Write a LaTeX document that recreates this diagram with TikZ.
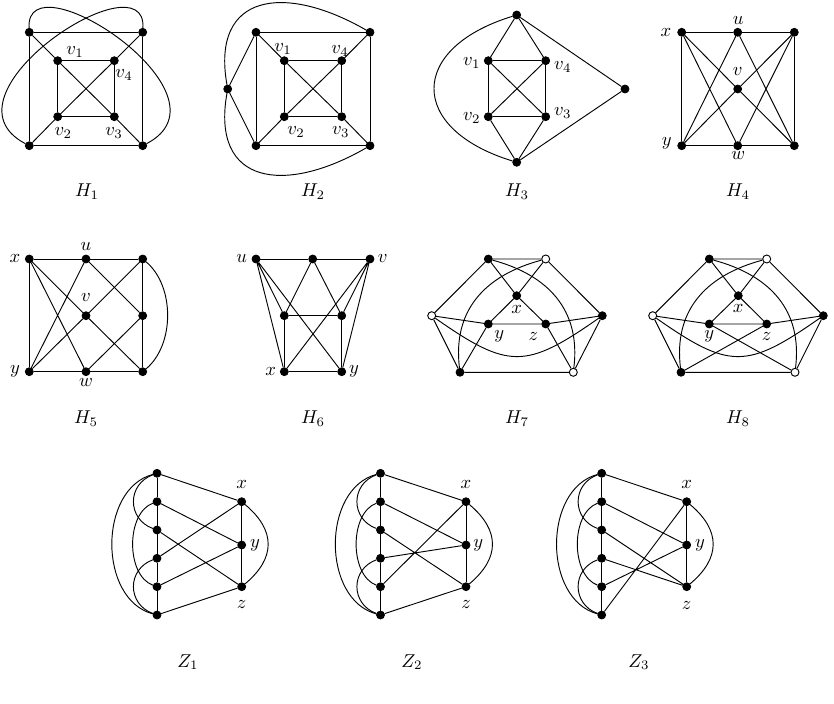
\documentclass[tikz,border=0pt]{standalone}
\begin{document}
\begin{tikzpicture}[x=0.5376pt,y=0.5376pt,
  bv/.style={circle,fill=black,draw=black,line width=0.4pt,inner sep=0pt,minimum size=4.3pt},
  wv/.style={circle,fill=white,draw=black,line width=0.5pt,inner sep=0pt,minimum size=4.3pt},
  lab/.style={inner sep=0pt},
  gcap/.style={anchor=base,inner sep=0pt},
  ln/.style={line width=0.5pt}]
\useasboundingbox (0,0) rectangle (834,-704);

% ---------- H1 ----------
\node[bv] (a1) at (29.3,-32.3) {};
\node[bv] (a2) at (142.7,-32.3) {};
\node[bv] (a3) at (29.3,-145.7) {};
\node[bv] (a4) at (142.7,-145.7) {};
\node[bv] (a5) at (57.7,-60.7) {};
\node[bv] (a6) at (114.3,-60.7) {};
\node[bv] (a7) at (57.7,-116.7) {};
\node[bv] (a8) at (114.3,-116.7) {};
\draw[ln] (a1)--(a2)--(a4)--(a3)--(a1);
\draw[ln] (a5)--(a6)--(a8)--(a7)--(a5);
\draw[ln] (a5)--(a8) (a7)--(a6) (a1)--(a5) (a2)--(a6) (a3)--(a7) (a4)--(a8);
\draw[ln] (a1) .. controls (25,45) and (240,-95) .. (a4);
\draw[ln] (a2) .. controls (147,45) and (-68,-95) .. (a3);
\node[lab] (la1) at (75,-52.3) {$v_1$};
\node[lab] (la2) at (124,-75) {$v_4$};
\node[lab] (la3) at (63.3,-133.3) {$v_2$};
\node[lab] (la4) at (114,-133.3) {$v_3$};
\node[gcap] (ca1) at (87,-197) {$H_1$};

% ---------- H2 ----------
\node[bv] (b1) at (256,-32.3) {};
\node[bv] (b2) at (370,-32.3) {};
\node[bv] (b3) at (256,-145.7) {};
\node[bv] (b4) at (370,-145.7) {};
\node[bv] (b5) at (227.7,-89) {};
\node[bv] (b6) at (284.3,-60.7) {};
\node[bv] (b7) at (341.7,-60.7) {};
\node[bv] (b8) at (284.3,-116.7) {};
\node[bv] (b9) at (341.7,-116.7) {};
\draw[ln] (b1)--(b2)--(b4)--(b3)--(b1);
\draw[ln] (b5)--(b1) (b5)--(b3);
\draw[ln] (b6)--(b7)--(b9)--(b8)--(b6);
\draw[ln] (b6)--(b9) (b8)--(b7) (b1)--(b6) (b2)--(b7) (b3)--(b8) (b4)--(b9);
\draw[ln] (b5) to[out=100,in=150,looseness=1.6] (b2);
\draw[ln] (b5) to[out=260,in=210,looseness=1.6] (b4);
\node[lab] (lb1) at (283,-49.3) {$v_1$};
\node[lab] (lb2) at (340,-50.7) {$v_4$};
\node[lab] (lb3) at (296,-131.7) {$v_2$};
\node[lab] (lb4) at (340.7,-131.7) {$v_3$};
\node[gcap] (cb1) at (313,-197) {$H_2$};

% ---------- H3 ----------
\node[bv] (c1) at (516.7,-15) {};
\node[bv] (c2) at (488.3,-60.7) {};
\node[bv] (c3) at (545.7,-60.7) {};
\node[bv] (c4) at (488.3,-116.7) {};
\node[bv] (c5) at (545.7,-116.7) {};
\node[bv] (c6) at (516.7,-162.3) {};
\node[bv] (c7) at (625,-89) {};
\draw[ln] (c1)--(c2) (c1)--(c3) (c1)--(c7) (c6)--(c4) (c6)--(c5) (c6)--(c7);
\draw[ln] (c2)--(c3)--(c5)--(c4)--(c2);
\draw[ln] (c2)--(c5) (c4)--(c3);
\draw[ln] (c1) to[out=197,in=163,looseness=1.94] (c6);
\node[lab] (lc1) at (471.7,-63.3) {$v_1$};
\node[lab] (lc2) at (562.7,-66.7) {$v_4$};
\node[lab] (lc3) at (471.7,-118.3) {$v_2$};
\node[lab] (lc4) at (562.7,-113.3) {$v_3$};
\node[gcap] (cc1) at (517,-197) {$H_3$};

% ---------- H4 ----------
\node[bv] (d1) at (681.7,-32.3) {};
\node[bv] (d2) at (737.7,-32.3) {};
\node[bv] (d3) at (794.3,-32.3) {};
\node[bv] (d4) at (737.7,-89) {};
\node[bv] (d5) at (681.7,-145.7) {};
\node[bv] (d6) at (737.7,-145.7) {};
\node[bv] (d7) at (794.3,-145.7) {};
\draw[ln] (d1)--(d2)--(d3)--(d7)--(d6)--(d5)--(d1);
\draw[ln] (d1)--(d4)--(d7) (d3)--(d4)--(d5);
\draw[ln] (d1)--(d6) (d2)--(d5) (d3)--(d6) (d2)--(d7);
\node[lab] (ld1) at (666,-32.3) {$x$};
\node[lab] (ld2) at (738.3,-20.7) {$u$};
\node[lab] (ld3) at (737.7,-71.7) {$v$};
\node[lab] (ld4) at (666.7,-143.3) {$y$};
\node[lab] (ld5) at (738.3,-156) {$w$};
\node[gcap] (cd1) at (738,-197) {$H_4$};

% ---------- H5 ----------
\node[bv] (e1) at (29.3,-259) {};
\node[bv] (e2) at (86,-259) {};
\node[bv] (e3) at (142.7,-259) {};
\node[bv] (e4) at (86,-315.7) {};
\node[bv] (e5) at (142.7,-315.7) {};
\node[bv] (e6) at (29.3,-371.7) {};
\node[bv] (e7) at (86,-371.7) {};
\node[bv] (e8) at (142.7,-371.7) {};
\draw[ln] (e1)--(e2)--(e3)--(e5)--(e8)--(e7)--(e6)--(e1);
\draw[ln] (e1)--(e4)--(e8) (e6)--(e4)--(e3);
\draw[ln] (e1)--(e7) (e6)--(e2) (e2)--(e5) (e5)--(e7);
\draw[ln] (e3) to[out=-40,in=40,looseness=0.9] (e8);
\node[lab] (le1) at (15,-259) {$x$};
\node[lab] (le2) at (86,-246.7) {$u$};
\node[lab] (le3) at (86,-297.3) {$v$};
\node[lab] (le4) at (15,-371.7) {$y$};
\node[lab] (le5) at (86,-382.7) {$w$};
\node[gcap] (ce1) at (86,-424) {$H_5$};

% ---------- H6 ----------
\node[bv] (f1) at (256,-259) {};
\node[bv] (f2) at (312.7,-259) {};
\node[bv] (f3) at (370,-259) {};
\node[bv] (f4) at (284.3,-315.7) {};
\node[bv] (f5) at (341.7,-315.7) {};
\node[bv] (f6) at (284.3,-371.7) {};
\node[bv] (f7) at (341.7,-371.7) {};
\draw[ln] (f1)--(f2)--(f3) (f4)--(f5) (f4)--(f6) (f5)--(f7) (f6)--(f7);
\draw[ln] (f2)--(f4) (f2)--(f5) (f1)--(f4) (f1)--(f6) (f1)--(f7);
\draw[ln] (f3)--(f5) (f3)--(f7) (f3)--(f6);
\node[lab] (lf1) at (241.7,-259) {$u$};
\node[lab] (lf2) at (382.7,-259) {$v$};
\node[lab] (lf3) at (270.7,-371.7) {$x$};
\node[lab] (lf4) at (354,-371.7) {$y$};
\node[gcap] (cf1) at (313,-424) {$H_6$};

% ---------- H7 ----------
\node[bv] (ga) at (488.3,-259) {};
\node[wv] (gb) at (545.7,-259) {};
\node[bv] (gx) at (516.7,-295.7) {};
\node[wv] (gw) at (431.7,-315.7) {};
\node[bv] (gy) at (488.3,-324) {};
\node[bv] (gz) at (545.7,-324) {};
\node[bv] (gr) at (602.3,-315.7) {};
\node[bv] (gc) at (460,-372.3) {};
\node[wv] (gd) at (573.3,-372.3) {};
\draw[ln] (ga)--(gb) (ga)--(gw) (gb)--(gr) (gw)--(gc) (gr)--(gd) (gc)--(gd);
\draw[ln] (ga)--(gx) (gb)--(gx) (gx)--(gy) (gx)--(gz) (gy)--(gz);
\draw[ln] (gw)--(gy) (gr)--(gz) (gy)--(gc) (gz)--(gd);
\draw[ln] (gb) to[out=195,in=97,looseness=1.1] (gc);
\draw[ln] (ga) to[out=-15,in=83,looseness=1.1] (gd);
\draw[ln] (gw) to[out=-35,in=215,looseness=1.4] (gr);
\node[lab] (lg1) at (516.7,-309.3) {$x$};
\node[lab] (lg2) at (499.3,-336) {$y$};
\node[lab] (lg3) at (533.3,-336) {$z$};
\node[gcap] (cg1) at (517,-424) {$H_7$};

% ---------- H8 ----------
\node[bv] (ha) at (709.3,-259) {};
\node[wv] (hb) at (766.7,-259) {};
\node[bv] (hx) at (738.3,-295.7) {};
\node[wv] (hw) at (652.7,-315.7) {};
\node[bv] (hy) at (709.3,-324) {};
\node[bv] (hz) at (766.7,-324) {};
\node[bv] (hr) at (823.3,-315.7) {};
\node[bv] (hc) at (681,-372.3) {};
\node[wv] (hd) at (795,-372.3) {};
\draw[ln] (ha)--(hb) (ha)--(hw) (hb)--(hr) (hw)--(hc) (hr)--(hd) (hc)--(hd);
\draw[ln] (ha)--(hx) (hb)--(hx) (hx)--(hy) (hx)--(hz) (hy)--(hz);
\draw[ln] (hw)--(hy) (hr)--(hz) (hy)--(hd) (hz)--(hc);
\draw[ln] (hb) to[out=195,in=97,looseness=1.1] (hc);
\draw[ln] (ha) to[out=-15,in=83,looseness=1.1] (hd);
\draw[ln] (hw) to[out=-35,in=215,looseness=1.4] (hr);
\node[lab] (lh1) at (738.3,-308.3) {$x$};
\node[lab] (lh2) at (709.3,-336.7) {$y$};
\node[lab] (lh3) at (766.7,-336.7) {$z$};
\node[gcap] (ch1) at (738,-424) {$H_8$};

% ---------- Z1 ----------
\node[bv] (i1) at (157,-473.3) {};
\node[bv] (i2) at (157,-501.7) {};
\node[bv] (i3) at (157,-530) {};
\node[bv] (i4) at (157,-558.3) {};
\node[bv] (i5) at (157,-586.7) {};
\node[bv] (i6) at (157,-615) {};
\node[bv] (ix) at (241.7,-501.7) {};
\node[bv] (iy) at (241.7,-545) {};
\node[bv] (iz) at (241.7,-586.7) {};
\draw[ln] (i1)--(i2)--(i3)--(i4)--(i5)--(i6) (ix)--(iy)--(iz);
\draw[ln] (i1)--(ix) (i2)--(iy) (i3)--(iz) (i4)--(ix) (i5)--(iy) (i6)--(iz);
\draw[ln] (ix) to[out=-40,in=40,looseness=1.3] (iz);
\draw[ln] (i1) to[out=195,in=165,looseness=1.04] (i6);
\draw[ln] (i1) to[out=200,in=160,looseness=1.32] (i3);
\draw[ln] (i2) to[out=200,in=160,looseness=0.9] (i5);
\draw[ln] (i4) to[out=200,in=160,looseness=1.32] (i6);
\node[lab] (li1) at (241.7,-484) {$x$};
\node[lab] (li2) at (255,-545) {$y$};
\node[lab] (li3) at (241.7,-604) {$z$};
\node[gcap] (ci1) at (188,-667) {$Z_1$};

% ---------- Z2 ----------
\node[bv] (j1) at (380.5,-473.3) {};
\node[bv] (j2) at (380.5,-501.7) {};
\node[bv] (j3) at (380.5,-530) {};
\node[bv] (j4) at (380.5,-558.3) {};
\node[bv] (j5) at (380.5,-586.7) {};
\node[bv] (j6) at (380.5,-615) {};
\node[bv] (jx) at (466,-501.7) {};
\node[bv] (jy) at (466,-545) {};
\node[bv] (jz) at (466,-586.7) {};
\draw[ln] (j1)--(j2)--(j3)--(j4)--(j5)--(j6) (jx)--(jy)--(jz);
\draw[ln] (j1)--(jx) (j2)--(jy) (j3)--(jz) (j4)--(jy) (j5)--(jx) (j6)--(jz);
\draw[ln] (jx) to[out=-40,in=40,looseness=1.3] (jz);
\draw[ln] (j1) to[out=195,in=165,looseness=1.04] (j6);
\draw[ln] (j1) to[out=200,in=160,looseness=1.32] (j3);
\draw[ln] (j2) to[out=200,in=160,looseness=0.9] (j5);
\draw[ln] (j4) to[out=200,in=160,looseness=1.32] (j6);
\node[lab] (lj1) at (466,-484) {$x$};
\node[lab] (lj2) at (478.3,-545) {$y$};
\node[lab] (lj3) at (466,-604) {$z$};
\node[gcap] (cj1) at (412,-667) {$Z_2$};

% ---------- Z3 ----------
\node[bv] (k1) at (601.7,-473.3) {};
\node[bv] (k2) at (601.7,-501.7) {};
\node[bv] (k3) at (601.7,-530) {};
\node[bv] (k4) at (601.7,-558.3) {};
\node[bv] (k5) at (601.7,-586.7) {};
\node[bv] (k6) at (601.7,-615) {};
\node[bv] (kx) at (686.7,-501.7) {};
\node[bv] (ky) at (686.7,-545) {};
\node[bv] (kz) at (686.7,-586.7) {};
\draw[ln] (k1)--(k2)--(k3)--(k4)--(k5)--(k6) (kx)--(ky)--(kz);
\draw[ln] (k1)--(kx) (k2)--(ky) (k3)--(kz) (k4)--(kz) (k5)--(ky) (k6)--(kx);
\draw[ln] (kx) to[out=-40,in=40,looseness=1.3] (kz);
\draw[ln] (k1) to[out=195,in=165,looseness=1.04] (k6);
\draw[ln] (k1) to[out=200,in=160,looseness=1.32] (k3);
\draw[ln] (k2) to[out=200,in=160,looseness=0.9] (k5);
\draw[ln] (k4) to[out=200,in=160,looseness=1.32] (k6);
\node[lab] (lk1) at (686.7,-484) {$x$};
\node[lab] (lk2) at (700,-545) {$y$};
\node[lab] (lk3) at (686.7,-605) {$z$};
\node[gcap] (ck1) at (639,-667) {$Z_3$};
\end{tikzpicture}
\end{document}
